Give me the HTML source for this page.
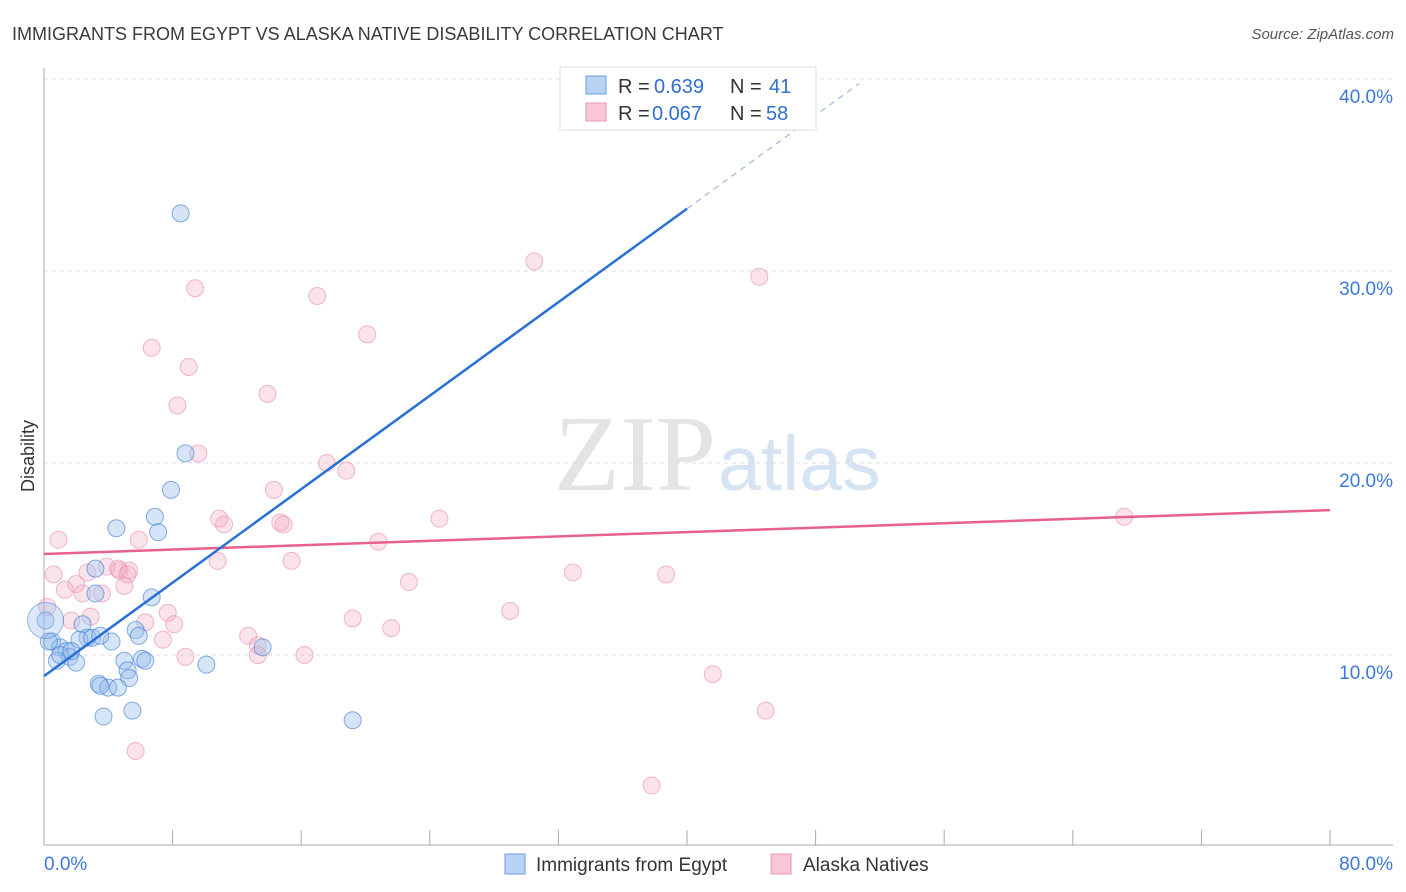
<!DOCTYPE html>
<html><head><meta charset="utf-8"><style>
body{margin:0;background:#fff;font-family:"Liberation Sans",sans-serif;}
svg{display:block}
</style></head><body>
<svg id="chart" width="1406" height="892" viewBox="0 0 1406 892">
<text x="12" y="40" font-size="18" fill="#3a3a3a">IMMIGRANTS FROM EGYPT VS ALASKA NATIVE DISABILITY CORRELATION CHART</text>
<text x="1394" y="39" font-size="15" fill="#555" font-style="italic" text-anchor="end">Source: ZipAtlas.com</text>
<text x="716" y="490" font-size="108" fill="#e4e4e4" text-anchor="end" font-family="Liberation Serif,serif">ZIP</text>
<text x="718" y="490" font-size="77" fill="#d6e3f3">atlas</text>
<g id="grid"></g>
<g id="axes"></g>
<g id="marks"></g>
<text x="34" y="456" font-size="18" fill="#333" text-anchor="middle" transform="rotate(-90 34 456)">Disability</text>
<g font-size="20">
<rect x="560" y="67" width="256" height="63" fill="#fff" stroke="#ddd"/>
<rect x="586" y="76" width="20" height="18" fill="#b8d3f3" stroke="#6a9de0"/>
<text x="618" y="93" fill="#333">R =</text><text x="654" y="93" fill="#2e6fd1">0.639</text>
<text x="730" y="93" fill="#333">N =</text><text x="769" y="93" fill="#2e6fd1">41</text>
<rect x="586" y="103" width="20" height="18" fill="#f8c6d5" stroke="#ea98b1"/>
<text x="618" y="120" fill="#333">R =</text><text x="652" y="120" fill="#2e6fd1">0.067</text>
<text x="730" y="120" fill="#333">N =</text><text x="766" y="120" fill="#2e6fd1">58</text>
</g>
<g>
<rect x="505" y="854" width="20" height="20" fill="#b8d3f3" stroke="#6a9de0"/>
<text x="536" y="871" font-size="19" fill="#333">Immigrants from Egypt</text>
<rect x="771" y="854" width="20" height="20" fill="#f8c6d5" stroke="#ea98b1"/>
<text x="803" y="871" font-size="19" fill="#333">Alaska Natives</text>
</g>
</svg>
<script>
const yTicks=[10,20,30,40];
const yTickLabels=["10.0%","20.0%","30.0%","40.0%"];
const xTickCount=10;
const xLabels=["0.0%","80.0%"];
const blueX=[8.5,8.8,7.9,4.5,6.9,7.1,3.2,6.7,3.2,2.4,5.7,5.9,2.7,4.2,2.2,0.1,0.5,1.0,1.4,1.6,0.8,2.0,0.3,5.0,6.1,6.3,10.1,5.2,5.3,3.4,4.0,4.6,3.5,3.7,5.5,19.2,13.6,1.0,1.7,3.0,3.5];
const blueY=[33.0,20.5,18.6,16.6,17.2,16.4,14.5,13.0,13.2,11.6,11.3,11.0,10.9,10.7,10.8,11.8,10.7,10.4,10.2,9.9,9.7,9.6,10.7,9.7,9.8,9.7,9.5,9.2,8.8,8.5,8.3,8.3,8.4,6.8,7.1,6.6,10.4,10.0,10.2,10.9,11.0];
const pinkX=[30.5,44.5,9.4,17.0,20.1,6.7,9.0,13.9,8.3,9.6,17.6,18.8,14.3,10.9,24.6,11.2,14.7,14.9,67.2,0.9,5.9,20.8,15.4,10.8,0.6,3.9,4.7,5.3,4.6,5.2,2.0,1.3,2.7,22.7,32.9,38.7,3.6,2.4,5.0,29.0,7.7,0.2,2.9,6.3,8.1,1.7,19.2,21.6,12.7,7.4,13.3,13.3,16.2,8.8,41.6,44.9,5.7,37.8];
const pinkY=[30.5,29.7,29.1,28.7,26.7,26.0,25.0,23.6,23.0,20.5,20.0,19.6,18.6,17.1,17.1,16.8,16.9,16.8,17.2,16.0,16.0,15.9,14.9,14.9,14.2,14.6,14.4,14.4,14.5,14.2,13.7,13.4,14.3,13.8,14.3,14.2,13.2,13.2,13.6,12.3,12.2,12.5,12.0,11.7,11.6,11.8,11.9,11.4,11.0,10.8,10.5,10.0,10.0,9.9,9.0,7.1,5.0,3.2];
const blueLine=[8.9,0.6086];
const pinkLine=[15.26,0.0286];
const NS="http://www.w3.org/2000/svg";
const X0=44,X1=1330,Y0=847,PPY=19.2;
const sx=v=>X0+(v/80)*(X1-X0);
const sy=v=>Y0-v*PPY;
function mk(t,a,p){const e=document.createElementNS(NS,t);for(const k in a)e.setAttribute(k,a[k]);p.appendChild(e);return e;}
const grid=document.getElementById('grid'),axes=document.getElementById('axes'),marks=document.getElementById('marks');
yTicks.forEach((t,i)=>{
 const l=mk('line',{x1:44,x2:1393,y1:sy(t),y2:sy(t),stroke:'#ddd','stroke-dasharray':'4,4'},grid);
 
 
 const tx=mk('text',{x:1393,y:sy(t)+24,'font-size':19,fill:'#3b78d8','text-anchor':'end'},axes);
 tx.textContent=yTickLabels[i];
 
 
});
const ya=mk('line',{x1:44,x2:44,y1:68,y2:845,stroke:'#aaa'},axes);


const xa=mk('line',{x1:44,x2:1393,y1:845,y2:845,stroke:'#aaa'},axes);


for(let i=0;i<=xTickCount;i++){
 const v=i*80/xTickCount;
 const t=mk('line',{x1:sx(v),x2:sx(v),y1:830,y2:845,stroke:'#aaa'},axes);
 
 
}
[[0,'start',44],[80,'end',1393]].forEach((d,i)=>{
 const tx=mk('text',{x:d[2],y:870,'font-size':19,fill:'#3b78d8','text-anchor':d[1]},axes);
 tx.textContent=xLabels[i];
 
 
});
pinkX.forEach((x,i)=>{
 const c=mk('circle',{cx:sx(x),cy:sy(pinkY[i]),r:8.5,fill:'rgba(244,170,195,0.33)',stroke:'rgba(232,140,170,0.6)','stroke-width':1},marks);
 
 
});
blueX.forEach((x,i)=>{
 const c=mk('circle',{cx:sx(x),cy:sy(blueY[i]),r:8.5,fill:'rgba(150,190,235,0.4)',stroke:'rgba(60,120,210,0.6)','stroke-width':1},marks);
 
 
});
const big=mk('circle',{cx:sx(0.1),cy:sy(11.8),r:18,fill:'rgba(150,190,235,0.35)',stroke:'rgba(60,120,210,0.5)'},marks);


const pl=mk('line',{x1:sx(0),y1:sy(pinkLine[0]),x2:sx(80),y2:sy(pinkLine[0]+pinkLine[1]*80),stroke:'#e8608c','stroke-width':2.5},marks);


const bl=mk('line',{x1:sx(0),y1:sy(blueLine[0]),x2:sx(40),y2:sy(blueLine[0]+blueLine[1]*40),stroke:'#2a6fd6','stroke-width':2.5},marks);


const bd=mk('line',{x1:sx(40),y1:sy(blueLine[0]+blueLine[1]*40),x2:sx(50.7),y2:sy(blueLine[0]+blueLine[1]*50.7),stroke:'#9bb8e0','stroke-width':1.2,'stroke-dasharray':'6,5'},marks);


</script>
</body></html>
